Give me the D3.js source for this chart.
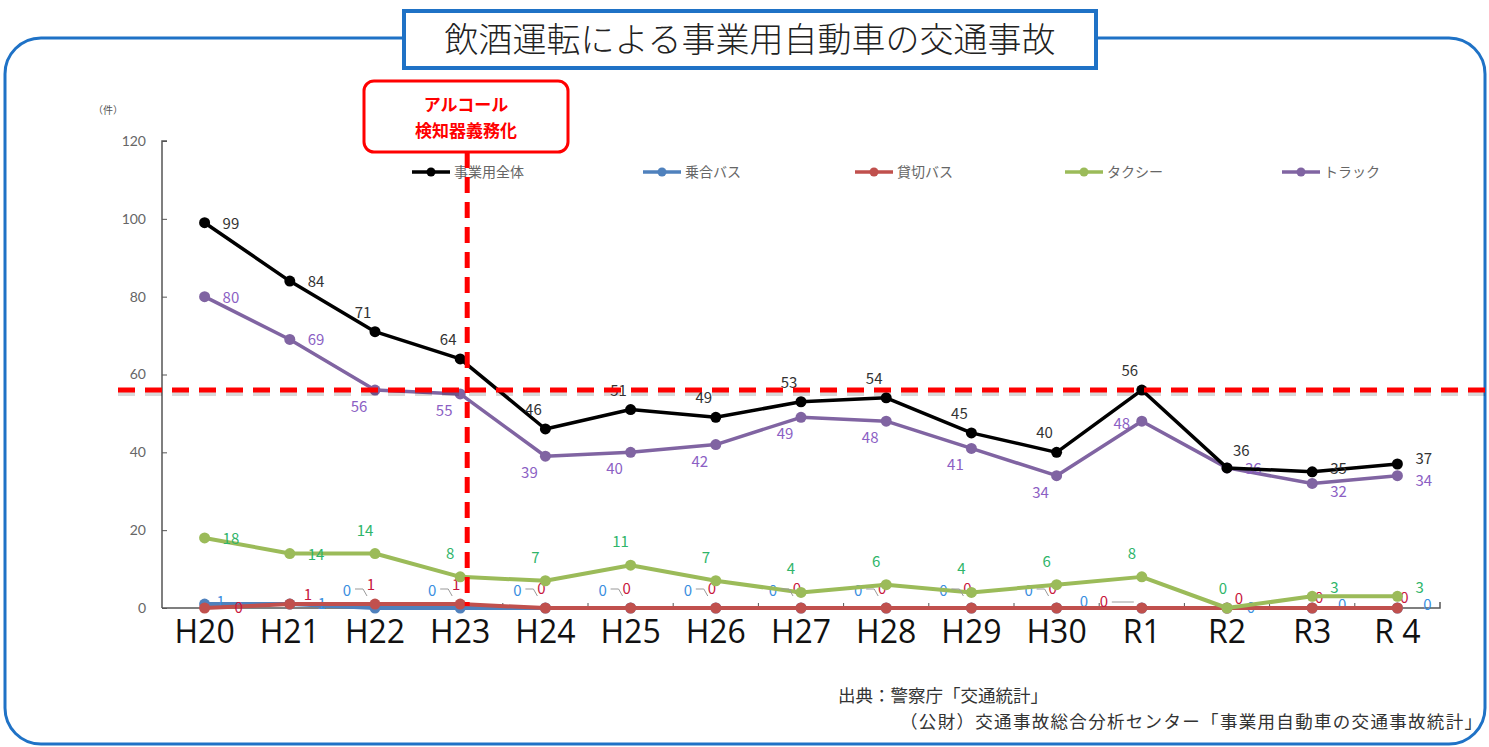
<!DOCTYPE html>
<html>
<head>
<meta charset="utf-8">
<script src="https://cdn.jsdelivr.net/npm/d3@7"></script>
<style>
  body { margin: 0; background: #fff; }
  svg { display: block; font-family: "Noto Sans CJK JP", "Noto Sans", sans-serif; }
</style>
</head>
<body>
<svg id="chart" width="1489" height="747"></svg>
<script>
// categories (fiscal years)
const years = ["H20", "H21", "H22", "H23", "H24", "H25", "H26", "H27", "H28", "H29", "H30", "R1", "R2", "R3", "R 4"];

// series values (件)
const totalAll = [99, 84, 71, 64, 46, 51, 49, 53, 54, 45, 40, 56, 36, 35, 37];
const routeBus = [1, 1, 0, 0, 0, 0, 0, 0, 0, 0, 0, 0, 0, 0, 0];
const charterBus = [0, 1, 1, 1, 0, 0, 0, 0, 0, 0, 0, 0, 0, 0, 0];
const taxi = [18, 14, 14, 8, 7, 11, 7, 4, 6, 4, 6, 8, 0, 3, 3];
const truck = [80, 69, 56, 55, 39, 40, 42, 49, 48, 41, 34, 48, 36, 32, 34];

const yTicks = [0, 20, 40, 60, 80, 100, 120];
const refLevel = 56;      // horizontal reference line
const refYear = "H23";    // year of the alcohol checker obligation

const svg = d3.select("#chart");
const W = 1489;

const x = d3.scaleBand().domain(years).range([162, 1440]);
const y = d3.scaleLinear().domain([0, 120]).range([608, 141]);
const cx = (i) => x(years[i]) + x.bandwidth() / 2;

// outer rounded frame
svg.append("rect")
  .attr("x", 5).attr("y", 38)
  .attr("width", 1480).attr("height", 706)
  .attr("rx", 36)
  .attr("fill", "none")
  .attr("stroke", "#1f72c6")
  .attr("stroke-width", 3);

// title box
svg.append("rect")
  .attr("x", 404).attr("y", 11)
  .attr("width", 692).attr("height", 57)
  .attr("fill", "#fff")
  .attr("stroke", "#1f72c6")
  .attr("stroke-width", 4);
svg.append("text")
  .attr("x", 750).attr("y", 52)
  .attr("text-anchor", "middle")
  .attr("font-size", 34)
  .attr("font-weight", 300)
  .attr("fill", "#222")
  .text("飲酒運転による事業用自動車の交通事故");

// unit
svg.append("text")
  .attr("x", 93).attr("y", 114)
  .attr("font-size", 10)
  .attr("fill", "#555")
  .text("（件）");

// y axis, ticks pointing inwards
const yAxis = svg.append("g")
  .attr("transform", "translate(162,0)")
  .call(d3.axisLeft(y).tickValues(yTicks).tickSize(-5).tickPadding(16));
yAxis.select(".domain").attr("stroke", "#555").attr("stroke-width", 1.5).attr("d", "M5,141H0V608");
yAxis.selectAll(".tick line").attr("stroke", "#555");
yAxis.selectAll("text").attr("font-size", 14).attr("fill", "#666").attr("font-family", "Lato, sans-serif");

// x axis
const xAxis = svg.append("g")
  .attr("transform", "translate(0,608)")
  .call(d3.axisBottom(x).tickSize(0).tickPadding(11));
xAxis.select(".domain").attr("stroke", "#555").attr("stroke-width", 1.5).attr("d", "M162,0H1440V-6");
xAxis.selectAll("text").attr("font-size", 32).attr("fill", "#111").attr("font-family", "\"Open Sans\", sans-serif").attr("dy", "0.75em");
// small tick marks on category boundaries
svg.append("g")
  .selectAll("line")
  .data(years.slice(1))
  .join("line")
  .attr("x1", (d) => x(d)).attr("x2", (d) => x(d))
  .attr("y1", 608).attr("y2", 603)
  .attr("stroke", "#555");

const series = [
  { name: "乗合バス", values: routeBus, color: "#4f81bd", label: "#3a8ee0", width: 4 },
  { name: "貸切バス", values: charterBus, color: "#c0504d", label: "#c8163d", width: 4 },
  { name: "タクシー", values: taxi, color: "#9bbb59", label: "#2fb56a", width: 4 },
  { name: "トラック", values: truck, color: "#8064a2", label: "#8c5fc4", width: 3.5 },
  { name: "事業用全体", values: totalAll, color: "#000", label: "#333", width: 3.5 },
];

const line = d3.line().x((d, i) => cx(i)).y((d) => y(d));

const groups = svg.selectAll("g.series")
  .data(series)
  .join("g")
  .attr("class", "series");

groups.append("path")
  .attr("d", (s) => line(s.values))
  .attr("fill", "none")
  .attr("stroke", (s) => s.color)
  .attr("stroke-width", (s) => s.width)
  .attr("stroke-linejoin", "round");

groups.each(function (s) {
  d3.select(this).selectAll("circle")
    .data(s.values)
    .join("circle")
    .attr("cx", (d, i) => cx(i))
    .attr("cy", (d) => y(d))
    .attr("r", 5.5)
    .attr("fill", s.color);
});

// data label placement: [dx, dy, anchor]
function labelPos(s, i) {
  const last = i === years.length - 1;
  if (s.name === "事業用全体") {
    if (i < 2) return [18, 6, "start"];
    if (i === 13) return [18, 2, "start"];
    if (last) return [18, 0, "start"];
    if (i === 12) return [6, -12, "start"];
    return [-12, -14, "middle"];
  }
  if (s.name === "トラック") {
    if (i < 2 || i === 12) return [18, 6, "start"];
    if (i === 13) return [18, 14, "start"];
    if (last) return [18, 10, "start"];
    if (i === 11) return [-20, 8, "middle"];
    return [-16, 22, "middle"];
  }
  if (s.name === "タクシー") {
    if (i < 2) return [18, 6, "start"];
    if (i > 12) return [18, -3, "start"];
    if (i === 12) return [-4, -14, "middle"];
    return [-10, -18, "middle"];
  }
  if (s.name === "乗合バス") {
    if (i === 0) return [12, 3, "start"];
    if (i === 1) return [28, 5, "start"];
    if (i === 11) return [-58, -1, "middle"];
    if (i === 12) return [24, 5, "middle"];
    if (i > 12) return [30, 2, "middle"];
    return [-28, -12, "middle"];
  }
  // 貸切バス
  if (i === 0) return [30, 5, "start"];
  if (i === 1) return [14, -4, "start"];
  if (i === 11) return [-38, -1, "middle"];
  if (i === 12) return [12, -4, "middle"];
  if (i > 12) return [7, -5, "middle"];
  return [-4, -14, "middle"];
}

groups.each(function (s) {
  d3.select(this).selectAll("text")
    .data(s.values)
    .join("text")
    .attr("x", (d, i) => cx(i) + labelPos(s, i)[0])
    .attr("y", (d) => y(d))
    .attr("dy", (d, i) => labelPos(s, i)[1])
    .attr("text-anchor", (d, i) => labelPos(s, i)[2])
    .attr("font-size", 15)
    .attr("fill", s.label)
    .text((d) => d);
});

// leader lines between the two bus labels
svg.append("g")
  .selectAll("path")
  .data(years.slice(2, 11))
  .join("path")
  .attr("d", (d, i) => {
    const px = cx(i + 2), py = y(0);
    return `M${px - 20},${py - 19}H${px - 12}L${px - 8},${py - 12}`;
  })
  .attr("fill", "none")
  .attr("stroke", "#999")
  .attr("stroke-width", 1);
svg.append("path")
  .attr("d", `M${cx(11) - 30},${y(0) - 6}H${cx(11) - 8}`)
  .attr("stroke", "#bbb")
  .attr("stroke-width", 1.5);

// legend
const legendX = [412, 643, 855, 1065, 1282];
const legendOrder = [4, 0, 1, 2, 3];
const legend = svg.append("g")
  .selectAll("g")
  .data(legendOrder.map((k, j) => ({ s: series[k], lx: legendX[j] })))
  .join("g")
  .attr("transform", (d) => `translate(${d.lx},172)`);
legend.append("line")
  .attr("x1", 0).attr("x2", 38)
  .attr("stroke", (d) => d.s.color)
  .attr("stroke-width", 3.5);
legend.append("circle")
  .attr("cx", 19).attr("r", 4.5)
  .attr("fill", (d) => d.s.color);
legend.append("text")
  .attr("x", 42).attr("dy", "0.35em")
  .attr("font-size", 14)
  .attr("fill", "#666")
  .text((d) => d.s.name);

// red reference lines
const refG = svg.append("g");
refG.append("line")
  .attr("x1", 118).attr("x2", W)
  .attr("y1", y(refLevel) + 3).attr("y2", y(refLevel) + 3)
  .attr("stroke", "#000").attr("stroke-opacity", 0.15)
  .attr("stroke-width", 6).attr("stroke-dasharray", "17,10");
refG.append("line")
  .attr("x1", 118).attr("x2", W)
  .attr("y1", y(refLevel)).attr("y2", y(refLevel))
  .attr("stroke", "#f00")
  .attr("stroke-width", 5).attr("stroke-dasharray", "17,10");
const vx = cx(years.indexOf(refYear)) + 7;
refG.append("line")
  .attr("x1", vx).attr("x2", vx)
  .attr("y1", 152).attr("y2", 606)
  .attr("stroke", "#f00")
  .attr("stroke-width", 5).attr("stroke-dasharray", "16,9");

// callout box
svg.append("rect")
  .attr("x", 364).attr("y", 81)
  .attr("width", 204).attr("height", 71)
  .attr("rx", 10)
  .attr("fill", "#fff")
  .attr("stroke", "#f00")
  .attr("stroke-width", 3);
svg.append("text")
  .attr("x", 466).attr("y", 111)
  .attr("text-anchor", "middle")
  .attr("font-size", 17).attr("font-weight", 700)
  .attr("fill", "#f00")
  .text("アルコール");
svg.append("text")
  .attr("x", 466).attr("y", 137)
  .attr("text-anchor", "middle")
  .attr("font-size", 17).attr("font-weight", 700)
  .attr("fill", "#f00")
  .text("検知器義務化");

// source
svg.append("text")
  .attr("x", 838).attr("y", 702)
  .attr("font-size", 17.5).attr("fill", "#333")
  .text("出典：警察庁「交通統計」");
svg.append("text")
  .attr("x", 900).attr("y", 728)
  .attr("font-size", 17.5).attr("fill", "#333")
  .attr("textLength", 582)
  .text("（公財）交通事故総合分析センター「事業用自動車の交通事故統計」");
</script>
</body>
</html>
